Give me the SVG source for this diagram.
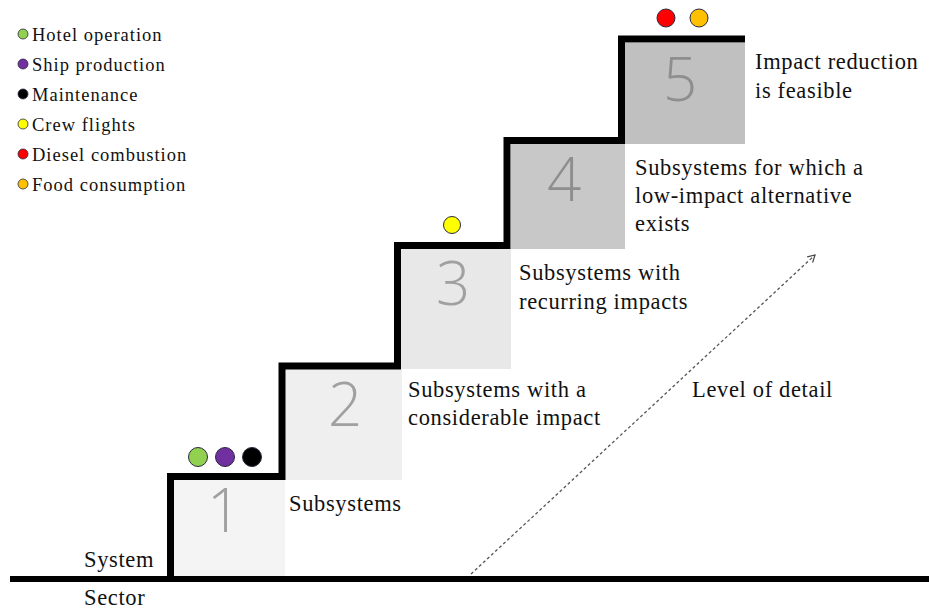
<svg xmlns="http://www.w3.org/2000/svg" width="929" height="610" viewBox="0 0 929 610">
  <style>
    .lbl { font-family: "Liberation Serif", "DejaVu Serif", serif; font-size: 22.5px; letter-spacing: 0.65px; fill: #111; }
    .leg { font-family: "Liberation Serif", "DejaVu Serif", serif; font-size: 18.5px; letter-spacing: 1px; fill: #111; }
    .num { font-family: "Open Sans", "DejaVu Sans", sans-serif; font-weight: 300; font-size: 60px; fill: #a0a0a0; text-anchor: middle; }
    .num.dark { fill: #8e8e8e; }
    .stair { fill: none; stroke: #000; stroke-width: 7; stroke-linejoin: miter; }
    .dot { stroke: #2a2a40; stroke-width: 1; }
    .ldot { stroke: #2a2a40; stroke-width: 0.8; }
  </style>
  <defs>
    <marker id="openHead" markerWidth="10" markerHeight="10" refX="8" refY="5" orient="auto" markerUnits="userSpaceOnUse">
      <path d="M1,1 L8,5 L1,9" fill="none" stroke="#444" stroke-width="1.2"/>
    </marker>
  </defs>
  <rect width="929" height="610" fill="#fff"/>

  <!-- legend -->
  <g id="legend">
    <circle class="ldot" cx="23" cy="34" r="5" fill="#92d050"/>
    <text class="leg" x="32" y="41">Hotel operation</text>
    <circle class="ldot" cx="23" cy="64" r="5" fill="#7030a0"/>
    <text class="leg" x="32" y="71">Ship production</text>
    <circle class="ldot" cx="23" cy="94" r="5" fill="#000"/>
    <text class="leg" x="32" y="101">Maintenance</text>
    <circle class="ldot" cx="23" cy="124" r="5" fill="#ffff00"/>
    <text class="leg" x="32" y="131">Crew flights</text>
    <circle class="ldot" cx="23" cy="154" r="5" fill="#ff0000"/>
    <text class="leg" x="32" y="161">Diesel combustion</text>
    <circle class="ldot" cx="23" cy="184" r="5" fill="#ffc000"/>
    <text class="leg" x="32" y="191">Food consumption</text>
  </g>

  <!-- step blocks -->
  <g id="step1">
    <rect x="173" y="480" width="112" height="97" fill="#f4f4f4"/>
    <text class="num" x="224" y="532">1</text>
    <text class="lbl" x="289" y="511">Subsystems</text>
  </g>
  <g id="step2">
    <rect x="285" y="369" width="117" height="111" fill="#efefef"/>
    <text class="num" x="345" y="426">2</text>
    <text class="lbl" x="408" y="397">Subsystems with a</text>
    <text class="lbl" x="408" y="425">considerable impact</text>
  </g>
  <g id="step3">
    <rect x="401" y="249" width="110" height="120" fill="#e8e8e8"/>
    <text class="num" x="453" y="305">3</text>
    <text class="lbl" x="519" y="280">Subsystems with</text>
    <text class="lbl" x="519" y="309">recurring impacts</text>
  </g>
  <g id="step4">
    <rect x="511" y="144" width="114" height="105" fill="#c8c8c8"/>
    <text class="num dark" x="564" y="201">4</text>
    <text class="lbl" x="635" y="175">Subsystems for which a</text>
    <text class="lbl" x="635" y="203">low-impact alternative</text>
    <text class="lbl" x="635" y="231">exists</text>
  </g>
  <g id="step5">
    <rect x="625" y="43" width="120" height="101" fill="#c0c0c0"/>
    <text class="num dark" x="680" y="101">5</text>
    <text class="lbl" x="755" y="69">Impact reduction</text>
    <text class="lbl" x="755" y="98">is feasible</text>
  </g>

  <!-- staircase outline and ground -->
  <g id="connectors">
    <path class="stair" d="M170.5,579 V476.5 H282 V366 H397.5 V245.5 H507 V140.5 H621.5 V39 H745"/>
    <line x1="10" y1="579" x2="929" y2="579" stroke="#000" stroke-width="6"/>
    <line x1="471" y1="574" x2="815" y2="255" stroke="#555" stroke-width="1.3" stroke-dasharray="3,2.5" marker-end="url(#openHead)"/>
  </g>

  <!-- subsystem markers -->
  <g id="markers">
    <circle class="dot" cx="198" cy="457" r="9.5" fill="#92d050"/>
    <circle class="dot" cx="225" cy="457" r="9.5" fill="#7030a0"/>
    <circle class="dot" cx="252" cy="457" r="9.5" fill="#000"/>
    <circle class="dot" cx="452" cy="225" r="8.5" fill="#ffff00"/>
    <circle class="dot" cx="666" cy="18" r="9" fill="#ff0000"/>
    <circle class="dot" cx="699" cy="18" r="9" fill="#ffc000"/>
  </g>

  <g id="axis-labels">
    <text class="lbl" x="692" y="397">Level of detail</text>
    <text class="lbl" x="84" y="567">System</text>
    <text class="lbl" x="84" y="605">Sector</text>
  </g>
</svg>
